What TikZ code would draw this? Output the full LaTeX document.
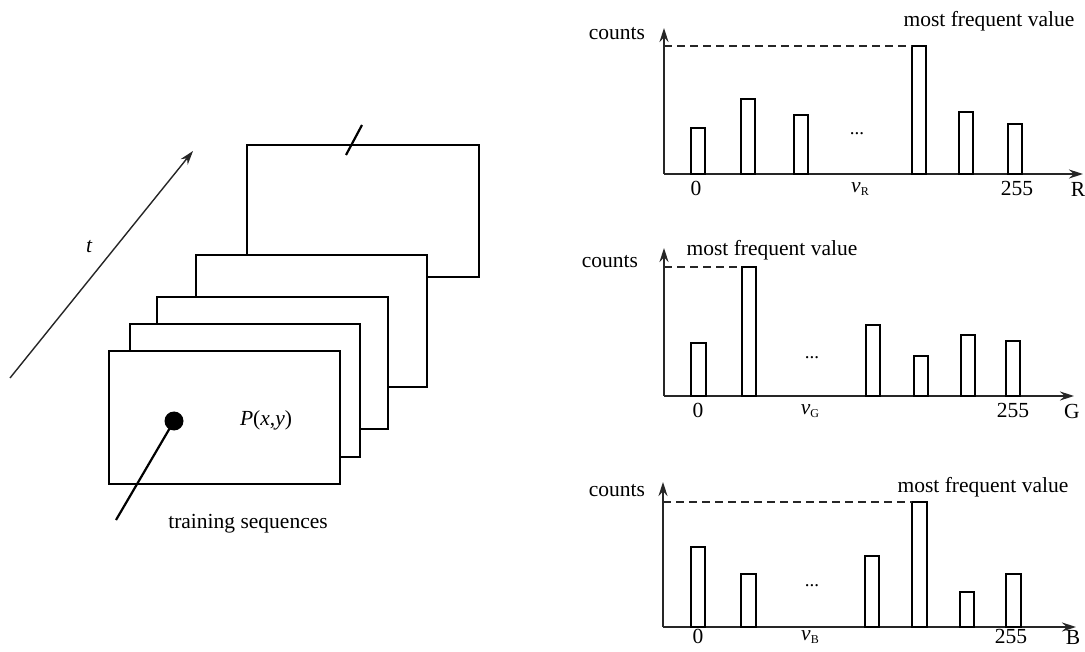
\documentclass[tikz,border=0pt]{standalone}
\usepackage{fontspec}
\setmainfont{Liberation Serif}
\usetikzlibrary{arrows.meta}
\tikzset{
  lbl/.style={inner sep=0pt, font=\fontsize{21.5}{25}\selectfont},
  dotslbl/.style={inner sep=0pt, anchor=base, font=\fontsize{19}{22}\selectfont},
  frame/.style={draw=black, line width=2.3pt, fill=white},
  bar/.style={draw=black, line width=2.3pt, fill=white},
  axis/.style={draw=black!85, line width=1.5pt, -{Stealth[length=14pt,width=9pt]}},
  peak/.style={draw=black!85, line width=1.6pt, dash pattern=on 8pt off 5pt},
  lead/.style={draw=black, line width=2.2pt},
  timearrow/.style={draw=black!85, line width=1.4pt, -{Stealth[length=14pt,width=9pt]}}
}
\begin{document}
\begin{tikzpicture}[x=1pt,y=-1pt]
\useasboundingbox (0,0) rectangle (1085,652);
% ---------- time axis ----------
\coordinate (t0) at (10,378);
\coordinate (t1) at (193,151);
\draw[timearrow] (t0) -- (t1);
\node[lbl] (tl) at (89,247) {\itshape t};
% ---------- frames (back to front) ----------
\draw[frame] (247,145) rectangle (479,277);
\coordinate (k0) at (346,155);
\coordinate (k1) at (362,125);
\draw[lead] (k0) -- (k1);
\draw[frame] (196,255) rectangle (427,387);
\draw[frame] (157,297) rectangle (388,429);
\draw[frame] (130,324) rectangle (360,457);
\draw[frame] (109,351) rectangle (340,484);
\node[circle, fill=black, inner sep=0pt, minimum size=19pt] (dot) at (174,421) {};
\coordinate (ts) at (116,520);
\draw[lead] (dot.center) -- (ts);
\node[lbl] (pxy) at (266,420) {\itshape P\upshape(\itshape x\upshape,\itshape y\upshape)};
\node[lbl] (train) at (248,524) {training sequences};
% ---------- R histogram ----------
\coordinate (oR) at (664,174);
\coordinate (yR) at (664,28);
\coordinate (xR) at (1083,174);
\draw[axis] (oR) -- (yR);
\draw[axis] (oR) -- (xR);
\draw[bar] (691,174) rectangle (705,128);
\draw[bar] (741,174) rectangle (755,99);
\draw[bar] (794,174) rectangle (808,115);
\draw[bar] (912,174) rectangle (926,46);
\draw[bar] (959,174) rectangle (973,112);
\draw[bar] (1008,174) rectangle (1022,124);
\coordinate (dR) at (664,46);
\coordinate (pR) at (912,46);
\draw[peak] (dR) -- (pR);
\node[lbl] (cR) at (617,34) {counts};
\node[lbl] (mR) at (989,21) {most frequent value};
\node[dotslbl] (dotsR) at (857,135) {...};
\node[lbl] (zR) at (696,188) {0};
\node[lbl] (vR) at (860,189) {\itshape v\upshape\fontsize{12}{14}\selectfont\raisebox{-3pt}{R}};
\node[lbl] (nR) at (1017,188) {255};
\node[lbl] (aR) at (1078,189) {R};
% ---------- G histogram ----------
\coordinate (oG) at (664,396);
\coordinate (yG) at (664,248);
\coordinate (xG) at (1074,396);
\draw[axis] (oG) -- (yG);
\draw[axis] (oG) -- (xG);
\draw[bar] (691,396) rectangle (706,343);
\draw[bar] (742,396) rectangle (756,267);
\draw[bar] (866,396) rectangle (880,325);
\draw[bar] (914,396) rectangle (928,356);
\draw[bar] (961,396) rectangle (975,335);
\draw[bar] (1006,396) rectangle (1020,341);
\coordinate (dG) at (664,267);
\coordinate (pG) at (742,267);
\draw[peak] (dG) -- (pG);
\node[lbl] (cG) at (610,262) {counts};
\node[lbl] (mG) at (772,250) {most frequent value};
\node[dotslbl] (dotsG) at (812,359) {...};
\node[lbl] (zG) at (698,410) {0};
\node[lbl] (vG) at (810,411) {\itshape v\upshape\fontsize{12}{14}\selectfont\raisebox{-3pt}{G}};
\node[lbl] (nG) at (1013,410) {255};
\node[lbl] (aG) at (1072,411) {G};
% ---------- B histogram ----------
\coordinate (oB) at (663,627);
\coordinate (yB) at (663,482);
\coordinate (xB) at (1076,627);
\draw[axis] (oB) -- (yB);
\draw[axis] (oB) -- (xB);
\draw[bar] (691,627) rectangle (705,547);
\draw[bar] (741,627) rectangle (756,574);
\draw[bar] (865,627) rectangle (879,556);
\draw[bar] (912,627) rectangle (927,502);
\draw[bar] (960,627) rectangle (974,592);
\draw[bar] (1006,627) rectangle (1021,574);
\coordinate (dB) at (663,502);
\coordinate (pB) at (912,502);
\draw[peak] (dB) -- (pB);
\node[lbl] (cB) at (617,491) {counts};
\node[lbl] (mB) at (983,487) {most frequent value};
\node[dotslbl] (dotsB) at (812,586) {...};
\node[lbl] (zB) at (698,636) {0};
\node[lbl] (vB) at (810,637) {\itshape v\upshape\fontsize{12}{14}\selectfont\raisebox{-3pt}{B}};
\node[lbl] (nB) at (1011,636) {255};
\node[lbl] (aB) at (1073,637) {B};
\end{tikzpicture}
\end{document}
